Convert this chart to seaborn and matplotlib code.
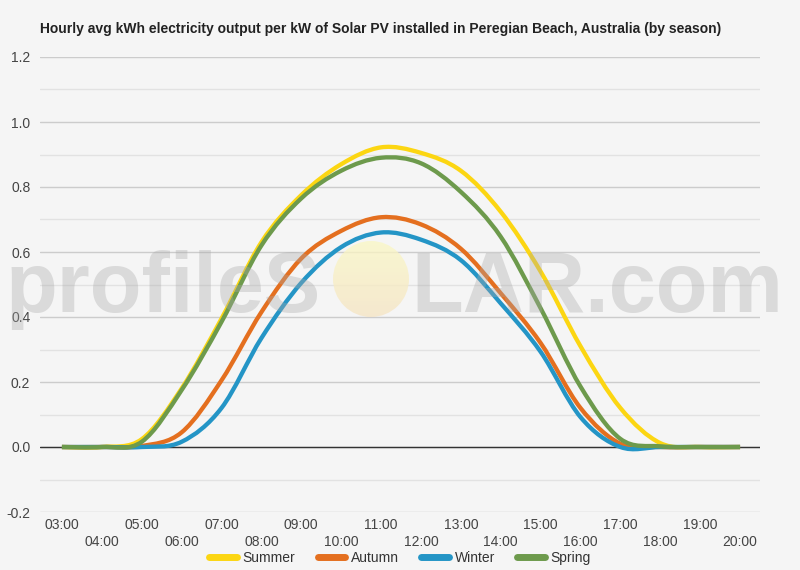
import numpy as np
import pandas as pd
import matplotlib
matplotlib.use("Agg")
import matplotlib.pyplot as plt
import seaborn as sns
from matplotlib.path import Path
from matplotlib.patches import PathPatch, Circle
from matplotlib.lines import Line2D

# ---------------- data ----------------
hours = list(range(3, 21))
hour_labels = [f"{h:02d}:00" for h in hours]
seasons = ["Summer", "Autumn", "Winter", "Spring"]
summer = [0, 0, 0.024, 0.18, 0.395, 0.63, 0.775, 0.87, 0.922, 0.905, 0.85, 0.724, 0.54, 0.31, 0.12, 0.012, 0, 0]
autumn = [0, 0, 0.003, 0.045, 0.205, 0.415, 0.58, 0.665, 0.707, 0.685, 0.61, 0.473, 0.32, 0.12, 0.01, 0, 0, 0]
winter = [0, 0, 0, 0.016, 0.12, 0.335, 0.505, 0.615, 0.66, 0.638, 0.575, 0.442, 0.293, 0.092, 0, 0, 0, 0]
spring = [0, 0, 0.016, 0.175, 0.385, 0.62, 0.765, 0.85, 0.89, 0.873, 0.785, 0.647, 0.427, 0.186, 0.025, 0.002, 0, 0]
y_ticks = [-0.2, 0.0, 0.2, 0.4, 0.6, 0.8, 1.0, 1.2]
title = "Hourly avg kWh electricity output per kW of Solar PV installed in Peregian Beach, Australia (by season)"

colors = {"Summer": "#fcd612", "Autumn": "#e46f1f", "Winter": "#2495c6", "Spring": "#6d9a4c"}
BG = "#f5f5f5"

sns.set_theme(style="white")
plt.rcParams["font.family"] = ["Liberation Sans", "DejaVu Sans"]

df = pd.DataFrame({
    "hour": hours * 4,
    "kwh": summer + autumn + winter + spring,
    "season": sum([[s] * len(hours) for s in seasons], []),
})

fig = plt.figure(figsize=(8, 5.7), dpi=100, facecolor=BG)
ax = fig.add_axes([0.05, 1 - 512 / 570, 0.90, (512 - 57) / 570])
ax.set_facecolor(BG)

sns.lineplot(data=df, x="hour", y="kwh", hue="season", hue_order=seasons,
             palette=colors, errorbar=None, legend=False, ax=ax, lw=3)


def smooth_path(xy):
    pts = np.asarray(xy, dtype=float)
    n = len(pts)
    verts = [pts[0]]
    codes = [Path.MOVETO]
    for i in range(n - 1):
        p0 = pts[i - 1] if i > 0 else pts[i]
        p1 = pts[i]
        p2 = pts[i + 1]
        p3 = pts[i + 2] if i + 2 < n else pts[i + 1]
        c1 = p1 + (p2 - p0) / 6.0
        c2 = p2 - (p3 - p1) / 6.0
        verts += [c1, c2, p2]
        codes += [Path.CURVE4] * 3
    return Path(verts, codes)


for line, s in zip(list(ax.lines), seasons):
    xy = line.get_xydata()
    patch = PathPatch(smooth_path(xy), facecolor="none", edgecolor=line.get_color(),
                      lw=3.1, capstyle="butt", joinstyle="round", zorder=3)
    ax.add_patch(patch)
    line.set_visible(False)

ax.set_xlim(2.45, 20.5)
ax.set_ylim(-0.2, 1.2)
ax.set_yticks(y_ticks)
ax.set_yticklabels([f"{v:.1f}" for v in y_ticks])
ax.set_yticks(np.arange(-0.1, 1.2, 0.2), minor=True)
ax.grid(True, which="major", axis="y", color="#cccccc", lw=1.0, zorder=0)
ax.grid(True, which="minor", axis="y", color="#e2e2e2", lw=1.0, zorder=0)
ax.axhline(0, color="#333333", lw=1.0, zorder=2)
for sp in ax.spines.values():
    sp.set_visible(False)

odd = [h for h in hours if h % 2 == 1]
even = [h for h in hours if h % 2 == 0]
ax.set_xticks(odd)
ax.set_xticklabels([hour_labels[hours.index(h)] for h in odd])
ax.set_xticks(even, minor=True)
ax.set_xticklabels([hour_labels[hours.index(h)] for h in even], minor=True)
ax.tick_params(axis="x", which="major", length=0, pad=4, labelsize=10, labelcolor="#444444")
ax.tick_params(axis="x", which="minor", length=0, pad=16.5, labelsize=10, labelcolor="#444444")
ax.tick_params(axis="y", which="both", length=0, pad=7, labelsize=10, labelcolor="#444444")
ax.set_xlabel("")
ax.set_ylabel("")

fig.text(0.05, 1 - 29 / 570, title, fontsize=10, fontweight="bold", color="#222222",
         ha="left", va="center")

handles = [Line2D([0], [0], color=colors[s], lw=5) for s in seasons]
fig.legend(handles, seasons, loc="center", bbox_to_anchor=(0.5, 1 - 558 / 570), ncol=4,
           frameon=False, fontsize=10, handlelength=2.0, handletextpad=0.4,
           columnspacing=1.6, labelcolor="#333333", borderpad=0.1)

# watermark overlay (pixel coordinates)
wm = fig.add_axes([0, 0, 1, 1], zorder=5)
wm.set_xlim(0, 800)
wm.set_ylim(570, 0)
wm.axis("off")
wm.patch.set_alpha(0)
wm.text(5, 312, "profileS", fontsize=61, fontweight="bold", color="#a8a8a8", alpha=0.35,
        ha="left", va="baseline")
wm.text(411, 312, "LAR.com", fontsize=61, fontweight="bold", color="#a8a8a8", alpha=0.35,
        ha="left", va="baseline")
grad = np.linspace(0, 1, 100)[:, None]
cmap = matplotlib.colors.LinearSegmentedColormap.from_list("sun", ["#fbf8c4", "#f6e4c2"])
img = wm.imshow(grad, extent=(333, 409, 317, 241), cmap=cmap, alpha=0.75, aspect="auto")
circ = Circle((371, 279), 38, transform=wm.transData, facecolor="none", edgecolor="none")
wm.add_patch(circ)
img.set_clip_path(circ)
wm.set_xlim(0, 800)
wm.set_ylim(570, 0)

fig.savefig("out.png", dpi=100, facecolor=BG)
